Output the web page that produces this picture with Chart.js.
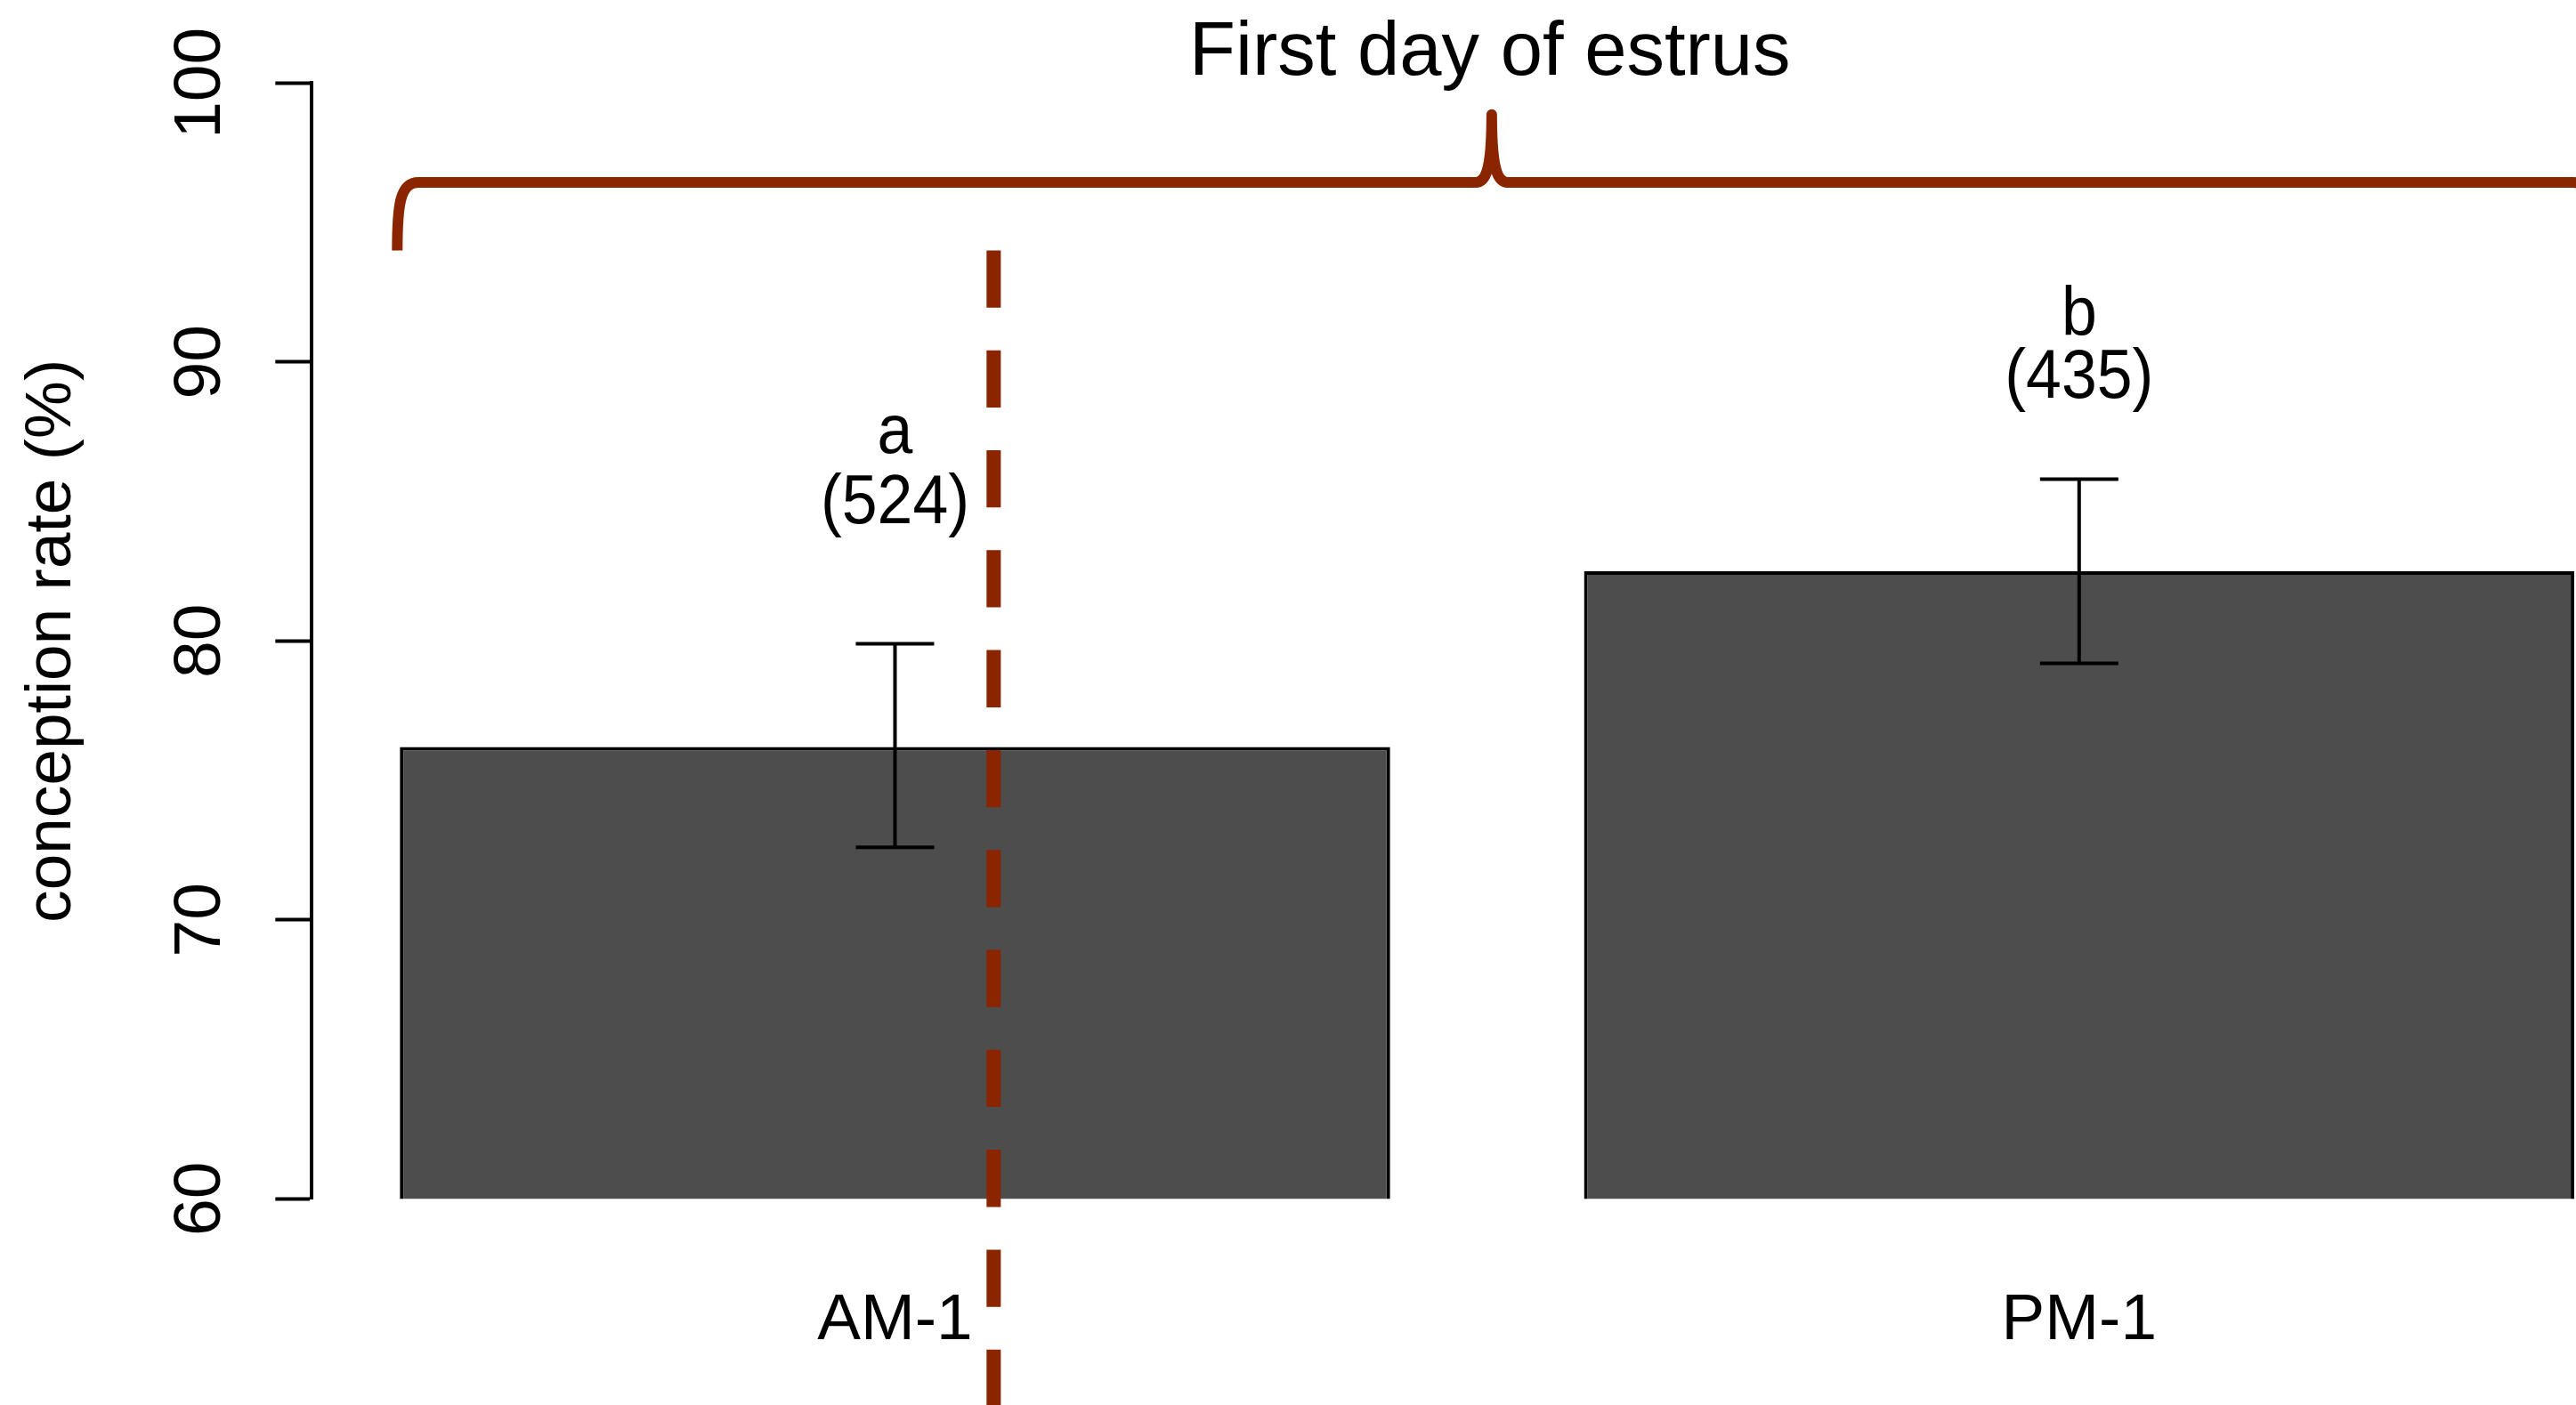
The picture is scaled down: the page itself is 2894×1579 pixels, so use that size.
<!DOCTYPE html>
<html>
<head>
<meta charset="utf-8">
<script src="https://cdn.jsdelivr.net/npm/chart.js@4.4.1/dist/chart.umd.min.js"></script>
<style>
  html, body { margin: 0; padding: 0; background: #ffffff; overflow: hidden; }
  #clip { width: 2894px; height: 1579px; overflow: hidden; position: relative; }
  #box { width: 2991px; height: 1579px; position: absolute; left: 0; top: 0; }
</style>
</head>
<body>
<div id="clip"><div id="box"><canvas id="c"></canvas></div></div>
<script>
// ---- data ----
const categories = ['AM-1', 'PM-1'];
const rates      = [76.2, 82.5];
const errLow     = [72.6, 79.2];
const errHigh    = [79.9, 85.8];
const letters    = ['a', 'b'];
const counts     = [524, 435];
const yTicks     = [60, 70, 80, 90, 100];
const chartTitle = 'First day of estrus';
const yTitle     = 'conception rate (%)';

// R barplot geometry: bar width 1, space 0.2 -> bar centres
const space = 0.2;
const barX = categories.map((_, i) => space + i * (1 + space) + 0.5);

const FONT = '"Liberation Sans", Arial, Helvetica, sans-serif';
const BRACE_COLOR = '#8B2500';

const markup = {
  id: 'markup',
  afterDatasetsDraw(chart, args, o) {
    const ctx = chart.ctx;
    const xs = chart.scales.x, ys = chart.scales.y;
    ctx.save();

    // dashed vertical line
    ctx.strokeStyle = BRACE_COLOR;
    ctx.lineWidth = 16;
    ctx.lineCap = 'butt';
    ctx.setLineDash([64.3, 48]);
    const dx = xs.getPixelForValue(o.dashX);
    ctx.beginPath();
    ctx.moveTo(dx, ys.getPixelForValue(o.dashTop));
    ctx.lineTo(dx, chart.height + 10);
    ctx.stroke();
    ctx.setLineDash([]);

    // error bars
    ctx.strokeStyle = '#000';
    ctx.lineWidth = 4;
    barX.forEach((v, i) => {
      const px = xs.getPixelForValue(v);
      const lo = ys.getPixelForValue(errLow[i]);
      const hi = ys.getPixelForValue(errHigh[i]);
      ctx.beginPath();
      ctx.moveTo(px, lo); ctx.lineTo(px, hi);
      ctx.moveTo(px - o.capHalf, lo); ctx.lineTo(px + o.capHalf, lo);
      ctx.moveTo(px - o.capHalf, hi); ctx.lineTo(px + o.capHalf, hi);
      ctx.stroke();
    });

    // letters and counts (slightly condensed, like the original rendering)
    ctx.fillStyle = '#000';
    ctx.font = '77px ' + FONT;
    ctx.textAlign = 'center';
    ctx.textBaseline = 'alphabetic';
    barX.forEach((v, i) => {
      const px = xs.getPixelForValue(v);
      [[letters[i], o.letterAt[i]], ['(' + counts[i] + ')', o.countAt[i]]].forEach(([t, yv]) => {
        ctx.save();
        ctx.translate(px, ys.getPixelForValue(yv));
        ctx.scale(0.93, 1);
        ctx.fillText(t, 0, 0);
        ctx.restore();
      });
    });

    // curly brace
    const X1 = xs.getPixelForValue(o.braceFrom);
    const X2 = xs.getPixelForValue(o.braceTo);
    const XC = xs.getPixelForValue(o.braceMid);
    const YT = ys.getPixelForValue(o.braceTip);
    const YB = ys.getPixelForValue(o.braceBar);
    const YP = ys.getPixelForValue(o.bracePeak);
    ctx.strokeStyle = BRACE_COLOR;
    ctx.lineWidth = 12;
    ctx.lineJoin = 'round';
    ctx.lineCap = 'butt';
    ctx.beginPath();
    ctx.moveTo(X1, YT);
    ctx.bezierCurveTo(X1, YB + 25, X1 + 3, YB, X1 + 24, YB);
    ctx.lineTo(XC - 18, YB);
    ctx.bezierCurveTo(XC - 6, YB, XC, YB - 16, XC, YP);
    ctx.bezierCurveTo(XC, YB - 16, XC + 6, YB, XC + 18, YB);
    ctx.lineTo(X2 - 24, YB);
    ctx.bezierCurveTo(X2 - 3, YB, X2, YB + 25, X2, YT);
    ctx.stroke();

    // title above brace
    ctx.fillStyle = '#000';
    ctx.font = '85px ' + FONT;
    ctx.textAlign = 'center';
    ctx.fillText(chartTitle, XC - 2, ys.getPixelForValue(o.titleAt));

    ctx.restore();
  }
};

new Chart(document.getElementById('c'), {
  type: 'bar',
  data: {
    datasets: [{
      data: barX.map((x, i) => ({ x: x, y: rates[i] })),
      backgroundColor: '#4D4D4D',
      borderColor: '#000000',
      borderWidth: 4,
      borderSkipped: 'start',
      categoryPercentage: 1,
      barPercentage: 0.8363
    }]
  },
  options: {
    responsive: true,
    maintainAspectRatio: false,
    animation: false,
    devicePixelRatio: 1,
    layout: { padding: { top: 93.3, left: 0, right: 0, bottom: 0 } },
    plugins: {
      legend: { display: false },
      tooltip: { enabled: false },
      title: { display: false },
      markup: {
        dashX: 0.8, dashTop: 94,
        capHalf: 44,
        letterAt: [86.75, 90.94],
        countAt: [84.22, 88.73],
        braceFrom: 0.1956, braceTo: 2.4221, braceMid: 1.3047,
        braceTip: 94, braceBar: 96.44, bracePeak: 98.87,
        titleAt: 100.31
      }
    },
    scales: {
      x: {
        type: 'linear',
        min: 0.109,
        max: 2.491,
        offset: false,
        grid: { display: false, drawTicks: false, offset: false },
        border: { display: false },
        afterBuildTicks: s => { s.ticks = barX.map(v => ({ value: v })); },
        afterFit: s => { s.height = 231.7; },
        ticks: {
          autoSkip: false,
          maxRotation: 0,
          minRotation: 0,
          padding: 93.5,
          color: '#000',
          font: { family: FONT, size: 73 },
          callback: (v, i) => categories[i]
        }
      },
      y: {
        min: 60,
        max: 100,
        beginAtZero: false,
        afterBuildTicks: s => { s.ticks = yTicks.map(v => ({ value: v })); },
        afterFit: s => { s.width = 350.3; },
        grid: { drawOnChartArea: false, drawTicks: true, tickLength: 41, tickWidth: 4, tickColor: '#000' },
        border: { display: true, color: '#000', width: 4 },
        ticks: {
          autoSkip: false,
          minRotation: 90,
          maxRotation: 90,
          crossAlign: 'center',
          padding: 20.5,
          color: '#000',
          font: { family: FONT, size: 75 }
        },
        title: {
          display: true,
          text: yTitle,
          color: '#000',
          font: { family: FONT, size: 73 },
          padding: { top: 15, bottom: 0 }
        }
      }
    }
  },
  plugins: [markup]
});
</script>
</body>
</html>
